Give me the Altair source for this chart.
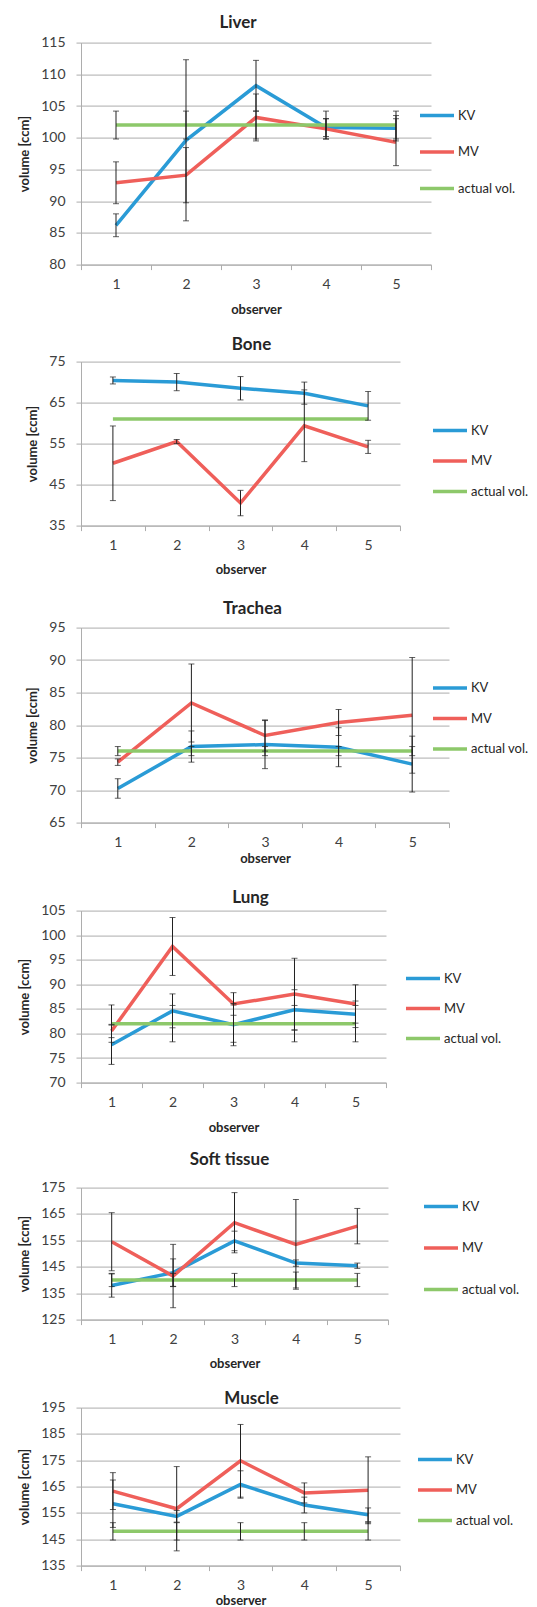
import altair as alt
import pandas as pd

observers = ["1", "2", "3", "4", "5"]
series = ["KV", "MV", "actual vol."]
colors = ["#2A9BD6", "#EF5F5A", "#8DC86A"]

# Liver
liver_kv = [86.2, 99.6, 108.2, 101.6, 101.5]
liver_kv_err = [1.8, 12.7, 4.0, 1.4, 2.0]
liver_mv = [92.9, 94.1, 103.2, 101.4, 99.3]
liver_mv_err = [3.3, 4.35, 3.7, 1.6, 3.7]
liver_act = [102, 102, 102, 102, 102]
liver_act_err = [2.2, 2.2, 2.2, 2.2, 2.2]

# Bone
bone_kv = [70.4, 70.0, 68.5, 67.3, 64.2]
bone_kv_err = [0.85, 2.1, 2.85, 2.7, 3.5]
bone_mv = [50.2, 55.5, 40.5, 59.35, 54.2]
bone_mv_err = [9.1, 0.5, 3.1, 8.75, 1.6]
bone_act = [61, 61, 61, 61, 61]
bone_act_err = [0, 0, 0, 0, 0]

# Trachea
trachea_kv = [70.25, 76.7, 77.0, 76.6, 74.0]
trachea_kv_err = [1.5, 2.4, 3.7, 3.0, 4.3]
trachea_mv = [74.3, 83.4, 78.4, 80.4, 81.5]
trachea_mv_err = [0.5, 6.0, 2.4, 2.0, 8.9]
trachea_act = [76, 76, 76, 76, 76]
trachea_act_err = [0.7, 0.7, 0.7, 0.7, 0.7]

# Lung
lung_kv = [77.7, 84.6, 81.8, 84.8, 83.9]
lung_kv_err = [4.0, 3.45, 4.3, 4.1, 2.7]
lung_mv = [80.5, 97.7, 86.0, 88.0, 86.0]
lung_mv_err = [1.35, 5.9, 2.3, 7.3, 3.9]
lung_act = [82, 82, 82, 82, 82]
lung_act_err = [3.8, 3.7, 3.8, 3.7, 3.7]

# Soft tissue
soft_kv = [137.9, 142.8, 154.8, 146.4, 145.4]
soft_kv_err = [4.4, 5.2, 3.7, 1.2, 1.0]
soft_mv = [154.5, 141.5, 161.7, 153.5, 160.4]
soft_mv_err = [11.0, 12.0, 11.4, 17.0, 6.7]
soft_act = [140, 140, 140, 140, 140]
soft_act_err = [2.5, 2.5, 2.5, 3.0, 2.5]

# Muscle
muscle_kv = [158.5, 153.7, 165.8, 158.0, 154.3]
muscle_kv_err = [9.0, 2.2, 5.2, 3.0, 2.6]
muscle_mv = [163.3, 156.6, 174.8, 162.6, 163.6]
muscle_mv_err = [7.0, 16.0, 13.8, 3.8, 12.7]
muscle_act = [148, 148, 148, 148, 148]
muscle_act_err = [3.3, 3.3, 3.3, 3.3, 3.3]

FONT = "Lato"
GRID = "#ADADAD"
LABEL = "#404040"
TITLE = "#262626"
ERR = "#202020"


def make_panel(name, kv, kv_e, mv, mv_e, act, act_e, ymin, ymax, ystep,
               w, h, title_offset, title_dy, title_dx, xtitle_pad, extra_gap,
               lx, ly, row_pad):
    rows = []
    for s, vals, errs in zip(series, [kv, mv, act], [kv_e, mv_e, act_e]):
        for o, v, e in zip(observers, vals, errs):
            rows.append(dict(observer=o, series=s, value=v, lo=v - e, hi=v + e, err=e))
    df = pd.DataFrame(rows)
    err_df = df[df["err"] > 0]

    xtitle = ["observer", ""] if extra_gap > 0 else "observer"
    xaxis = alt.Axis(
        tickBand="extent", labelAngle=0, grid=False,
        domainColor=GRID, tickColor=GRID, tickSize=5,
        labelPadding=8, labelFontSize=14, labelFont=FONT, labelColor=LABEL,
        titleFontSize=13, titleFontWeight="bold", titleFont=FONT, titleColor=TITLE,
        titlePadding=xtitle_pad, titleLineHeight=max(extra_gap, 1),
    )
    xscale = alt.Scale(type="band", paddingInner=0, paddingOuter=0, domain=observers)
    yscale = alt.Scale(domain=[ymin, ymax], nice=False, zero=False)
    yaxis = alt.Axis(
        values=list(range(ymin, ymax + 1, ystep)), grid=True,
        gridColor=GRID, gridWidth=1, domainColor=GRID, tickColor=GRID, tickSize=5,
        labelPadding=11, labelFontSize=14, labelFont=FONT, labelColor=LABEL,
        titleFontSize=13, titleFontWeight="bold", titleFont=FONT, titleColor=TITLE,
        titlePadding=9,
    )

    def X():
        return alt.X("observer:O", bandPosition=0.5, scale=xscale, axis=xaxis, title=xtitle)

    def Y(field):
        return alt.Y(field, scale=yscale, axis=yaxis, title="volume [ccm]")

    legend = alt.Legend(
        title=None, orient="none", legendX=lx, legendY=ly, direction="vertical",
        symbolType="stroke", symbolStrokeWidth=3.5, symbolSize=34 * 34,
        labelFontSize=13, labelFont=FONT, labelColor=TITLE, labelOffset=2,
        rowPadding=row_pad, padding=0, labelLimit=200,
    )

    lines = alt.Chart(df).mark_line(strokeWidth=3.5).encode(
        x=X(), y=Y("value:Q"),
        color=alt.Color("series:N", scale=alt.Scale(domain=series, range=colors), legend=legend,
                        sort=series),
        detail="series:N",
    )
    rules = alt.Chart(err_df).mark_rule(color=ERR, strokeWidth=1).encode(
        x=X(), y=Y("lo:Q"), y2="hi:Q"
    )
    caps = alt.Chart(err_df).transform_fold(["lo", "hi"], as_=["end", "cap"]).mark_tick(
        color=ERR, thickness=1, size=6
    ).encode(x=X(), y=Y("cap:Q"))

    return alt.layer(lines, rules, caps).properties(
        width=w, height=h,
        title=alt.TitleParams(text=name, fontSize=17, fontWeight="bold", font=FONT, color=TITLE,
                              offset=title_offset, dy=title_dy, dx=title_dx, anchor="middle"),
    )


p1 = make_panel("Liver", liver_kv, liver_kv_err, liver_mv, liver_mv_err, liver_act, liver_act_err,
                80, 115, 5, 350, 222, 3.4, 0, -18, 11.7, 4.1, 337, 54, 10.5)
p2 = make_panel("Bone", bone_kv, bone_kv_err, bone_mv, bone_mv_err, bone_act, bone_act_err,
                35, 75, 10, 319, 164, 0.7, 0, 11, 11, 7.7, 350, 50, 4.5)
p3 = make_panel("Trachea", trachea_kv, trachea_kv_err, trachea_mv, trachea_mv_err, trachea_act, trachea_act_err,
                65, 95, 5, 368, 195, 3, 0, -12.5, 3, 7.7, 350, 41.5, 4.5)
p4 = make_panel("Lung", lung_kv, lung_kv_err, lung_mv, lung_mv_err, lung_act, lung_act_err,
                70, 105, 5, 305, 172, 0, 3.8, 17, 11.5, 0.7, 323, 49, 4)
p5 = make_panel("Soft tissue", soft_kv, soft_kv_err, soft_mv, soft_mv_err, soft_act, soft_act_err,
                125, 175, 10, 307, 132, 11.2, 0, -5, 11, 3.4, 341, 0, 15.5)
p6 = make_panel("Muscle", muscle_kv, muscle_kv_err, muscle_mv, muscle_mv_err, muscle_act, muscle_act_err,
                135, 195, 10, 319, 158, 0, 7.8, 11, 1.5, 0, 335, 33, 4.5)

chart = alt.vconcat(p1, p2, p3, p4, p5, p6, spacing=15).resolve_scale(
    color="shared"
).resolve_legend(color="independent").properties(
    padding={"left": 10, "top": 5.6, "right": 0, "bottom": 0}
).configure_view(stroke=None)

chart.save("out.html", embed_options={"renderer": "svg", "actions": False})
